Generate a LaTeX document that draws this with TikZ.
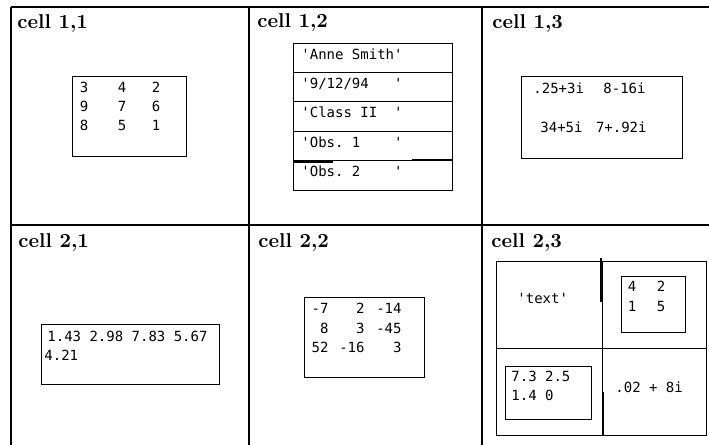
\documentclass[tikz,border=0pt]{standalone}
\usepackage{fontspec}
\setmonofont{DejaVu Sans Mono}
\newcommand{\sq}{\textquotesingle}

\begin{document}
\begin{tikzpicture}[x=0.5pt, y=-0.5pt,
  title/.style={font=\fontsize{10}{12}\selectfont\bfseries, anchor=base west, inner sep=0pt},
  val/.style={font=\ttfamily\fontsize{7}{8}\selectfont, anchor=base west, inner sep=0pt},
  rval/.style={val, anchor=base east},
  cval/.style={val, anchor=base},
  frame/.style={line width=0.5pt},
  bar/.style={line width=1.4pt}]
  \useasboundingbox (0,0) rectangle (709,445);
  % the table
  \draw[line width=0.7pt] (11,7) -- (709,7) (11,225) -- (709,225)
    (11,7) -- (11,445) (249,7) -- (249,445) (482,7) -- (482,445);
  \node[title] (t11) at (17,28) {cell 1,1};
  \node[title] (t12) at (257,27) {cell 1,2};
  \node[title] (t13) at (492,28) {cell 1,3};
  \node[title] (t21) at (18,247) {cell 2,1};
  \node[title] (t22) at (258,247) {cell 2,2};
  \node[title] (t23) at (491,247) {cell 2,3};
  % cell 1,1
  \draw[frame] (72,76) rectangle (186,156);
  \foreach \a/\b/\c [count=\r] in {3/4/2, 9/7/6, 8/5/1} {
    \node[cval] (ma\r) at (84,73+19*\r) {\a};
    \node[cval] (mb\r) at (122,73+19*\r) {\b};
    \node[cval] (mc\r) at (156,73+19*\r) {\c};
  }
  % cell 1,2
  \foreach \s [count=\r, evaluate=\r as \yt using 13.6+29.4*\r] in
    {\sq Anne Smith\sq, \sq 9/12/94~~~\sq, \sq Class II~~\sq, \sq Obs.~1~~~~\sq, \sq Obs.~2~~~~\sq} {
    \draw[frame] (293,\yt) rectangle (452,\yt+29.4);
    \node[val] (s\r) at (301,\yt+16) {\s};
  }
  \draw[bar] (293,162) -- (333,162);
  \draw[bar] (412,160) -- (452,160);
  % cell 1,3
  \draw[frame] (521,76) rectangle (682,158);
  \node[val] (z1) at (533,93) {.25+3i};
  \node[val] (z2) at (603,93) {8-16i};
  \node[val] (z3) at (540,132) {34+5i};
  \node[rval] (z4) at (647,132) {7+.92i};
  % cell 2,1
  \draw[frame] (41,324) rectangle (219,384);
  \node[val] (v1) at (47,341) {1.43 2.98 7.83 5.67};
  \node[val] (v2) at (44,360) {4.21};
  % cell 2,2
  \draw[frame] (304,297) rectangle (424,377);
  \foreach \a/\b/\c [count=\r] in {-7/2/-14, 8/3/-45, 52/-16/3} {
    \node[rval] (na\r) at (329,294+19.5*\r) {\a};
    \node[rval] (nb\r) at (365,294+19.5*\r) {\b};
    \node[rval] (nc\r) at (402,294+19.5*\r) {\c};
  }
  % cell 2,3
  \draw[frame] (496,261) rectangle (706,435) (602,261) -- (602,435) (496,348) -- (706,348);
  \draw[bar] (601,258) -- (601,302);
  \draw[bar] (603,392) -- (603,435);
  \node[val] (w1) at (517,303) {\sq text\sq};
  \draw[frame] (621,276) rectangle (685,332);
  \node[cval] (w2) at (632,291) {4};
  \node[cval] (w3) at (661,291) {2};
  \node[cval] (w4) at (632,311) {1};
  \node[cval] (w5) at (661,311) {5};
  \draw[frame] (505,366) rectangle (591,419);
  \node[val] (w6) at (511,381) {7.3 2.5};
  \node[val] (w7) at (511,400) {1.4 0};
  \node[val] (w8) at (615,392) {.02 + 8i};
\end{tikzpicture}
\end{document}
